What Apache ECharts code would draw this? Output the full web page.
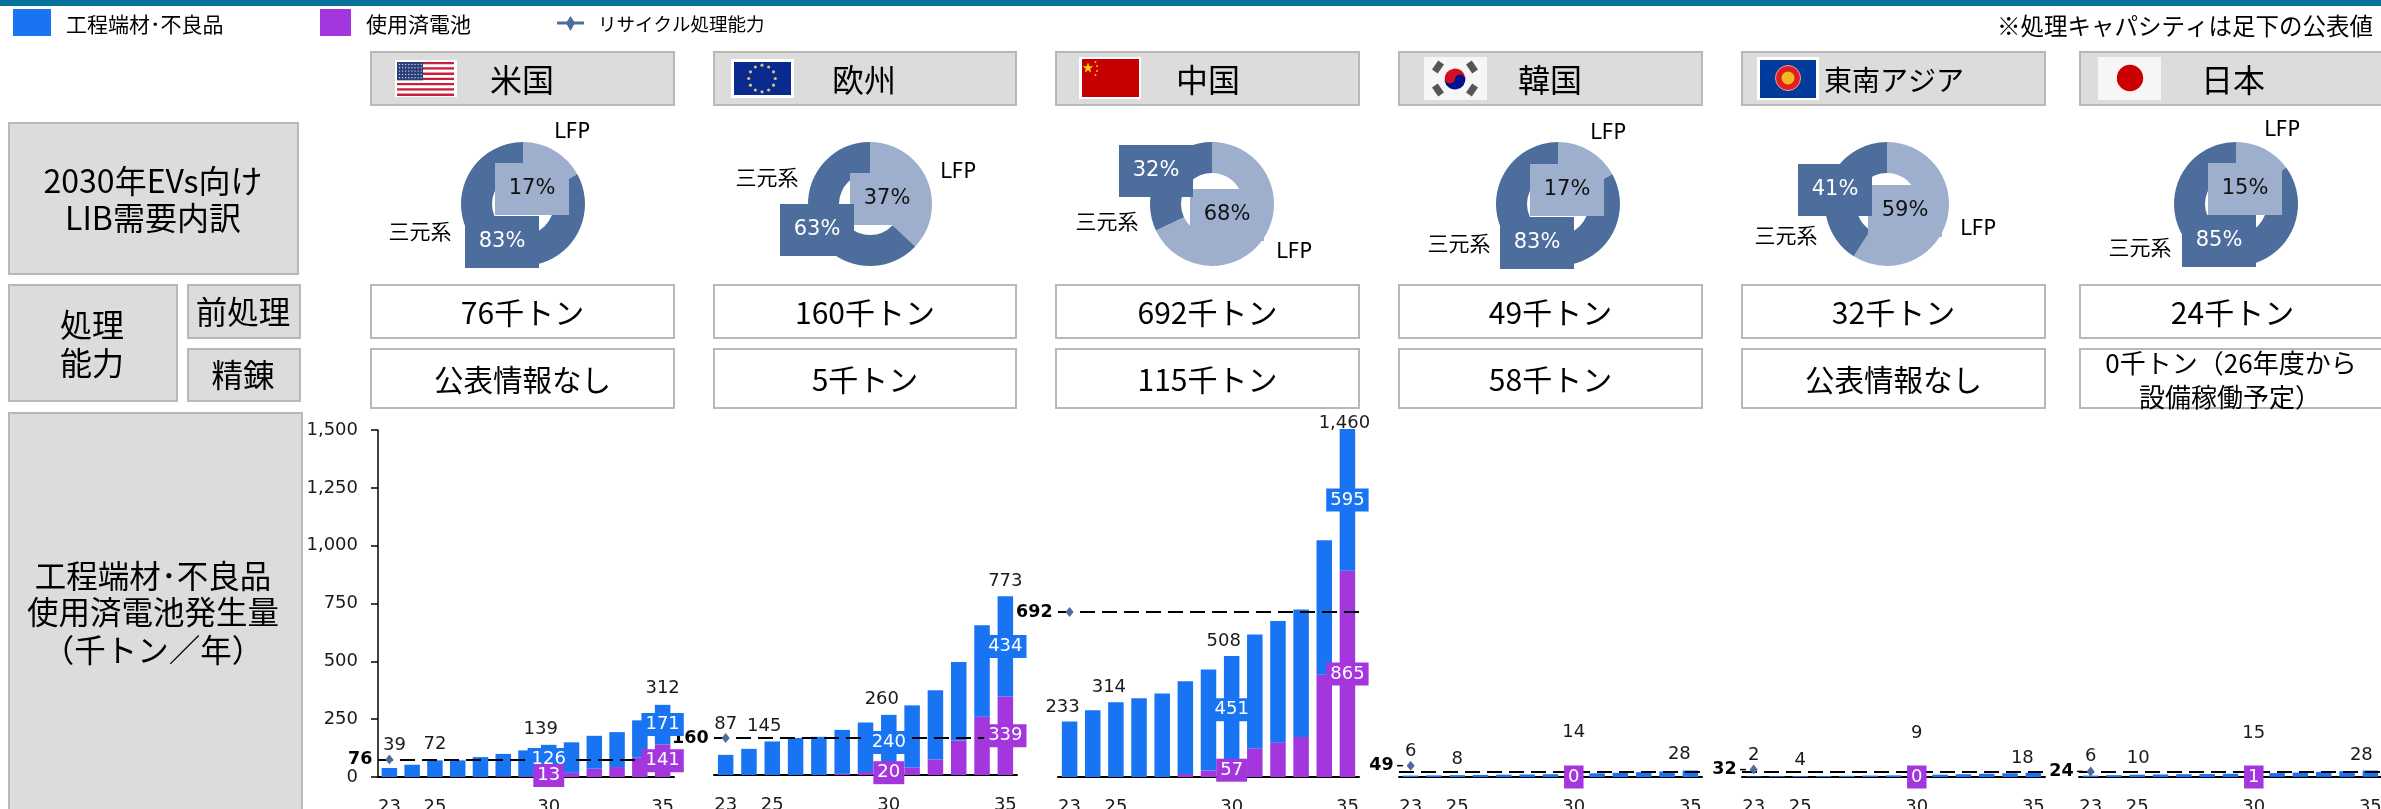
<!DOCTYPE html>
<html><head><meta charset="utf-8">
<style>html,body{margin:0;padding:0;background:#fff;overflow:hidden}#main{width:2381px;height:809px}</style>
<script src="https://cdn.jsdelivr.net/npm/echarts@6/dist/echarts.min.js"></script>
</head><body><div id="main"></div>
<script>
// ---------- data ----------
const categories = ['23','24','25','26','27','28','29','30','31','32','33','34','35'];
const tickLabels = ['23','25','30','35'];
const yTicks = [0,250,500,750,1000,1250,1500];
const regions = ['米国','欧州','中国','韓国','東南アジア','日本'];

const usBlue   = [39,53,72,72,86,97,111,126,132,142,151,161,171];
const usPurple = [0,0,0,0,0,3,4,13,18,36,43,84,141];
const euBlue   = [87,113,145,160,165,190,214,240,268,299,340,395,434];
const euPurple = [0,0,0,0,0,5,13,20,33,67,149,252,339];
const cnBlue   = [233,280,314,330,350,389,424,451,478,510,535,564,595];
const cnPurple = [0,0,0,0,0,13,27,57,120,144,168,429,865];
const krBlue   = [6,7,8,9,10,11,12,14,16,18,21,24,28];
const krPurple = [0,0,0,0,0,0,0,0,0,0,0,0,0];
const seBlue   = [2,3,4,4,5,6,7,9,10,12,14,16,18];
const sePurple = [0,0,0,0,0,0,0,0,0,0,0,0,0];
const jpBlue   = [6,8,10,11,12,13,14,14,16,18,21,24,27];
const jpPurple = [0,0,0,0,0,0,0,1,1,1,1,1,1];

const capacity = [76,160,692,49,32,24];          // 前処理 capacity marker
const capacityLine = [76,160,692,24,24,24];      // level of the dashed line as drawn
const pretreat = ['76千トン','160千トン','692千トン','49千トン','32千トン','24千トン'];
const refining = ['公表情報なし','5千トン','115千トン','58千トン','公表情報なし','0千トン（26年度から\n設備稼働予定）'];
const lfpShare = [17,37,68,17,59,15];
const ncmShare = [83,63,32,83,41,85];

// ---------- layout (not data) ----------
const BLUE='#1874f2', PURPLE='#a336dd', DARK='#4d6d9c', LIGHT='#9dafcd', PANEL='#dcdcdc', EDGE='#b8b8b8';
const LATIN='"DejaVu Sans","Noto Sans CJK JP"', CJK='"Noto Sans CJK JP","DejaVu Sans"';
const blues=[usBlue,euBlue,cnBlue,krBlue,seBlue,jpBlue], purples=[usPurple,euPurple,cnPurple,krPurple,sePurple,jpPurple];
const cols=[[370,675],[713,1017],[1055,1360],[1398,1703],[1741,2046],[2079,2384]];
const grids=[
 {left:378,width:296,top:430,bottom:777,max:1500},
 {left:714,width:303,top:428,bottom:775,max:1500},
 {left:1058,width:301,top:429,bottom:777,max:1460},
 {left:1399,width:303,top:430,bottom:777,max:1500},
 {left:1742,width:303,top:430,bottom:777,max:1500},
 {left:2079,width:303,top:430,bottom:777,max:1500}];
const totalIdx=[0,2,7,12];
const totalOff=[
 [[5,-23],[0,-16],[-8,-16],[0,-16]],
 [[0,-31],[-8,-15],[-7,-16],[0,-15]],
 [[-7,-14],[-7,-15],[-8,-15],[-3,-6]],
 [[0,-24],[0,-16],[0,-41],[-11,-16]],
 [[0,-21],[0,-16],[0,-42],[-11,-15]],
 [[0,-19],[1,-16],[0,-40],[-9,-15]]];
const pieCx=[523,870,1212,1558,1887,2236];
const pieLabelPos=[ // [lfp],[ncm] centres
 [[532,186],[502,239]],[[887,196],[817,227]],[[1227,212],[1156,168]],
 [[1567,187],[1537,240]],[[1905,208],[1835,187]],[[2245,186],[2219,238]]];
const nameLfp=[[572,133],[958,173],[1294,253],[1608,134],[1978,230],[2282,131]];
const nameNcm=[[420,231],[767,177],[1107,221],[1459,243],[1786,235],[2140,247]];
const headX=[522,864,1208,1550,1894,2233];

// ---------- graphic helpers ----------
const g=[];
function box(x0,y0,x1,y1,fill){g.push({type:'rect',shape:{x:x0+1,y:y0+1,width:x1-x0-2,height:y1-y0-2},style:{fill:fill,stroke:EDGE,lineWidth:2},silent:true,z:0});}
function rect(x,y,w,h,fill,extra){g.push(Object.assign({type:'rect',shape:{x,y,width:w,height:h},style:{fill},silent:true,z:1},extra||{}));}
function circ(x,y,r,fill,extra){g.push({type:'circle',shape:{cx:x,cy:y,r},style:Object.assign({fill},extra||{}),silent:true,z:2});}
function txt(s,x,y,size,opt){opt=opt||{};g.push({type:'text',x,y,z:3,silent:true,style:{text:s,fontSize:size,fontFamily:opt.font||CJK,fill:opt.fill||'#000',align:opt.align||'center',verticalAlign:'middle',fontWeight:opt.weight||'normal',lineHeight:opt.lh}});}

rect(0,0,2381,6,'#04719b');
rect(13,9,38,27,BLUE); rect(320,9,31,27,PURPLE);
txt('工程端材･不良品',66,24,21,{align:'left'});
txt('使用済電池',366,24,21,{align:'left'});
g.push({type:'line',shape:{x1:557,y1:23,x2:584,y2:23},style:{stroke:DARK,lineWidth:3},silent:true,z:1});
g.push({type:'polygon',shape:{points:[[570.5,16],[575,23],[570.5,31],[566,23]]},style:{fill:DARK},silent:true,z:2});
txt('リサイクル処理能力',598,24,18.5,{align:'left'});
txt('※処理キャパシティは足下の公表値',2373,26,23.5,{align:'right'});

box(8,122,299,275,PANEL);
txt('2030年EVs向け',153,181,32); txt('LIB需要内訳',153,218,32);
box(8,284,178,402,PANEL); txt('処理',92,325,32); txt('能力',92,363,32);
box(187,284,301,339,PANEL); txt('前処理',243,312,31.5);
box(187,348,301,402,PANEL); txt('精錬',243,375,31.5);
box(8,412,303,812,PANEL);
txt('工程端材･不良品',153,576,31.5); txt('使用済電池発生量',153,612,31.5); txt('（千トン／年）',153,650,31.5);

cols.forEach((c,i)=>{
  box(c[0],51,c[1],106,PANEL);
  box(c[0],284,c[1],339,'#fff');
  box(c[0],348,c[1],409,'#fff');
  txt(regions[i],headX[i],80,i===4?28:32);
  txt(pretreat[i],(c[0]+c[1])/2-(i===5?-1:0),313,30);
  if(i===5){
    const parts=refining[i].split('\n');
    txt(parts[0],2231,363,26); txt(parts[1],2230,397,26);
  } else txt(refining[i],(c[0]+c[1])/2,380,i===0||i===4?29.5:30);
  txt('LFP',nameLfp[i][0],nameLfp[i][1],20.5,{font:LATIN});
  txt('三元系',nameNcm[i][0],nameNcm[i][1],21);
});

// flags
rect(395,60,62,37,'#fff');
for(let k=0;k<13;k++) rect(397,62+k*2.62,57,2.62,k%2?'#fff':'#c8203c');
rect(397,62,26,18.3,'#2a3f7a');
for(let a=0;a<5;a++)for(let b=0;b<8;b++)circ(399.5+b*3.1,64.5+a*3.3,0.7,'#cfd6e6');
rect(731,59,63,39,'#fff'); rect(734,62,57,33,'#0a2a90');
for(let k=0;k<12;k++){const t=k*Math.PI/6;circ(762+13.3*Math.cos(t),78.5+13.3*Math.sin(t),1.6,'#cfc877');}
rect(1079,57,62,42,'#fff'); rect(1082,59,57,38,'#c60000');
g.push({type:'polygon',silent:true,z:2,shape:{points:(()=>{const p=[];for(let k=0;k<10;k++){const r=k%2?2.2:5.5,t=-Math.PI/2+k*Math.PI/5;p.push([1088+r*Math.cos(t),68+r*Math.sin(t)]);}return p;})()},style:{fill:'#ffd800'}});
[[1095.5,62],[1097,66],[1097,71],[1095.5,75]].forEach(p=>circ(p[0],p[1],0.9,'#ffd800'));
rect(1424,57,63,43,'#f6f6f6');
g.push({type:'sector',silent:true,z:2,shape:{cx:1455,cy:79,r:10.5,startAngle:Math.PI*0.95,endAngle:Math.PI*1.95},style:{fill:'#d01020'}});
g.push({type:'sector',silent:true,z:2,shape:{cx:1455,cy:79,r:10.5,startAngle:-Math.PI*0.05,endAngle:Math.PI*0.95},style:{fill:'#00108f'}});
circ(1450,78.5,5,'#d01020'); circ(1460,79.5,5,'#00108f');
[[1438,67,-0.6],[1472,67,0.6],[1438,90,0.6],[1472,90,-0.6]].forEach(p=>{
  g.push({type:'rect',silent:true,z:2,x:p[0],y:p[1],rotation:p[2],shape:{x:-3.5,y:-5.5,width:7,height:11},style:{fill:'#555'}});
});
rect(1757,57,62,43,'#fff'); rect(1760,60,56,38,'#003a9b');
circ(1788,78,12.5,'#e02020',{stroke:'#f0a0a0',lineWidth:1});
circ(1788,78,6.5,'#f5b820');
rect(2098,57,63,43,'#f6f6f6'); circ(2130,78,13.2,'#cc0000');

// capacity stub beside the marker in the three small panels
[3,4,5].forEach(i=>{
  const G=grids[i], y=G.bottom-capacity[i]*(G.bottom-G.top)/G.max;
  g.push({type:'line',silent:true,z:2,shape:{x1:G.left-2,y1:y,x2:G.left+4,y2:y},style:{stroke:'#000',lineWidth:1.5}});
});

// ---------- option ----------
const xAxis=[],yAxis=[],gridOpt=[],series=[];
const boxLabel=(bg,off)=>({show:true,position:'inside',offset:off||[0,0],formatter:p=>p.data.text,color:'#fff',fontSize:18,fontFamily:LATIN,backgroundColor:bg,padding:[3,4,2,4],lineHeight:18,align:'center',verticalAlign:'middle'});
grids.forEach((G,i)=>{
  gridOpt.push({left:G.left,top:G.top,width:G.width,height:G.bottom-G.top,outerBoundsMode:'none',containLabel:false});
  xAxis.push({type:'category',gridIndex:i,data:categories,boundaryGap:true,
    axisTick:{show:false},axisLine:{lineStyle:{color:'#000',width:2}},
    axisLabel:{interval:0,margin:21,fontSize:18,fontFamily:LATIN,color:'#1a1a1a',hideOverlap:false,formatter:v=>tickLabels.includes(v)?v:''}});
  yAxis.push({type:'value',gridIndex:i,min:0,max:G.max,interval:i===0?250:G.max,show:i===0,splitLine:{show:false},
    axisLine:{show:true,lineStyle:{color:'#000',width:1.5}},axisTick:{show:true,length:7,lineStyle:{color:'#000',width:1.5}},
    axisLabel:{margin:20,fontSize:18,fontFamily:LATIN,color:'#1a1a1a',
      formatter:v=>yTicks.includes(v)?v.toLocaleString('en-US'):''}});
  const B=blues[i],P=purples[i];
  series.push({name:'使用済電池',type:'bar',xAxisIndex:i,yAxisIndex:i,stack:'s'+i,data:P,barWidth:15.5,itemStyle:{color:PURPLE},z:2,silent:true,animation:false});
  series.push({name:'工程端材･不良品',type:'bar',xAxisIndex:i,yAxisIndex:i,stack:'s'+i,data:B,barWidth:15.5,itemStyle:{color:BLUE},z:2,silent:true,animation:false});
  // capacity marker + dashed line
  series.push({name:'リサイクル処理能力',type:'line',xAxisIndex:i,yAxisIndex:i,
    data:categories.map((c,k)=>k===0?capacity[i]:null),symbol:'diamond',symbolSize:[8,10],showSymbol:true,
    itemStyle:{color:DARK},lineStyle:{width:0},z:4,animation:false,silent:true,
    label:{show:true,position:'left',distance:13,fontSize:17.5,fontWeight:'bold',fontFamily:LATIN,color:'#000',formatter:'{c}'},
    markLine:{silent:true,symbol:'none',animation:false,z:3,label:{show:false},lineStyle:{color:'#000',type:[15,7],width:2},data:[{yAxis:capacityLine[i]}]}});
  // value labels, on top of the dashed line
  const overlay=[];
  totalIdx.forEach((k,n)=>{
    const t=B[k]+P[k];
    overlay.push({value:[k,t],text:t.toLocaleString('en-US'),label:{show:true,position:'inside',offset:totalOff[i][n],formatter:p=>p.data.text,color:'#1a1a1a',fontSize:18,fontFamily:LATIN,align:'center',verticalAlign:'middle'}});
  });
  [7,12].forEach(k=>{
    if(i<3){
      overlay.push({value:[k,P[k]+B[k]/2],text:String(B[k]),label:boxLabel(BLUE)});
      overlay.push({value:[k,P[k]/2],text:String(P[k]),label:boxLabel(PURPLE)});
    } else if(k===7){
      overlay.push({value:[k,0],text:String(P[k]),label:boxLabel(PURPLE)});
    }
  });
  series.push({type:'scatter',xAxisIndex:i,yAxisIndex:i,data:overlay,symbolSize:1,itemStyle:{color:'transparent',opacity:1},z:10,silent:true,animation:false});
  // demand split donut
  const cx=pieCx[i], pos=pieLabelPos[i];
  const pctLabel=(color)=>({show:true,position:'inside',formatter:'{c}%',color,fontSize:21,fontFamily:LATIN,width:74,height:52,lineHeight:52,align:'center'});
  series.push({type:'pie',center:[cx,204],radius:[31,62],startAngle:90,clockwise:true,avoidLabelOverlap:false,silent:true,animation:false,z:2,
    labelLine:{show:false},
    labelLayout:(p)=>({x:pos[p.dataIndex][0],y:pos[p.dataIndex][1]+3,align:'center',verticalAlign:'middle'}),
    data:[
     {name:'LFP',value:lfpShare[i],itemStyle:{color:LIGHT},label:Object.assign(pctLabel('#111'),{backgroundColor:LIGHT})},
     {name:'三元系',value:ncmShare[i],itemStyle:{color:DARK},label:Object.assign(pctLabel('#fff'),{backgroundColor:DARK})}
    ]});
});

const chart=echarts.init(document.getElementById('main'),null,{renderer:'canvas',width:2381,height:809});
chart.setOption({animation:false,backgroundColor:'#fff',grid:gridOpt,xAxis,yAxis,series,graphic:{elements:g}});
</script></body></html>
